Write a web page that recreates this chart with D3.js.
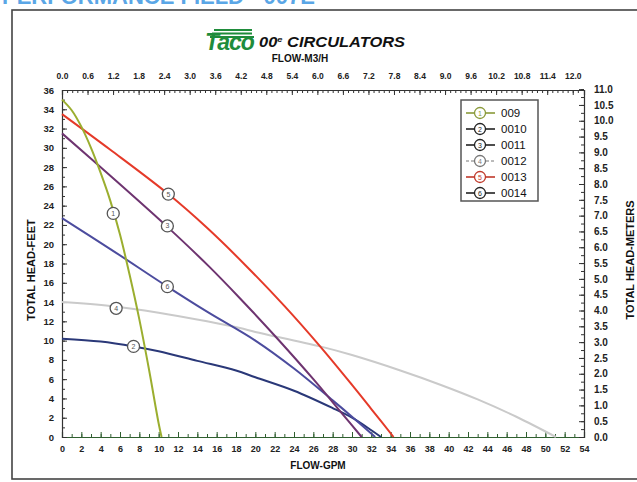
<!DOCTYPE html>
<html><head><meta charset="utf-8">
<script src="https://cdn.jsdelivr.net/npm/d3@7"></script>
<style>
html,body{margin:0;padding:0;background:#fff;}
svg{display:block;font-family:"Liberation Sans",Arial,sans-serif;}
</style></head>
<body>
<svg id="c" width="637" height="482"></svg>
<script>
// ---- data (flow in GPM, head in feet) ----
const gpmTicks = d3.range(0, 55, 2);
const m3hTicks = d3.range(0, 12.01, 0.6);
const feetTicks = d3.range(0, 37, 2);
const meterTicks = d3.range(0, 11.01, 0.5);
const seriesNames = ["009", "0010", "0011", "0012", "0013", "0014"];
const seriesColors = ["#9bae2f", "#2a3878", "#6e3470", "#cacaca", "#e53a29", "#4c4c9e"];
const legendColors = ["#8a9a3a", "#222222", "#222222", "#777777", "#c0392b", "#222222"];
const s009  = [[0,35],[1,33.9],[2,32.2],[3,30.0],[4,27.4],[5,24.5],[6,21.0],[7,16.8],[8,12.2],[9,7.0],[10,1.4],[10.3,0]];
const s0010 = [[0,10.2],[4,9.9],[7.4,9.4],[10,8.9],[14,7.9],[18,6.9],[20,6.2],[24,4.8],[28,3.0],[30,2.0],[32,0.7],[33,0]];
const s0011 = [[0,31.5],[5,27.1],[10.9,21.8],[15.2,17.7],[18.4,14.4],[22.2,10.3],[26,6.0],[29,2.4],[31,0]];
const s0012 = [[0,14],[5,13.6],[10,12.9],[15,12],[18.4,11.3],[20,10.9],[26.7,9.4],[30,8.5],[35,6.9],[39.2,5.4],[43,3.9],[47,2.1],[51.1,0]];
const s0013 = [[0,33.5],[5,29.8],[11,25.2],[15,21.7],[19,17.8],[23,13.6],[26.7,9.4],[30,5.4],[32,2.9],[34.3,0]];
const s0014 = [[0,22.7],[5,19.5],[10.9,15.6],[15,13.0],[20,10.0],[24,7.1],[28,3.8],[30,2.1],[32.4,0]];
const seriesData = [s009, s0010, s0011, s0012, s0013, s0014];
const markerPos = [[5.3,23.2],[7.4,9.4],[10.9,21.9],[5.6,13.35],[11,25.2],[10.9,15.6]];

// ---- layout ----
const svg = d3.select("#c");
const L = 62, R = 584, T = 90, B = 437;
const GPM_PER_M3H = 4.40287, FT_PER_M = 3.28084;
const x = d3.scaleLinear().domain([0, 54]).range([L, R]);
const xm = d3.scaleLinear().domain([0, 54 / GPM_PER_M3H]).range([L, R]);
const y = d3.scaleLinear().domain([0, 36]).range([B, T]);
const ym = d3.scaleLinear().domain([0, 36 / FT_PER_M]).range([B, T]);

// frame and cut heading
svg.append("text").attr("x", 2).attr("y", 4).attr("fill", "#5aa6e6")
  .attr("font-size", 22).attr("font-weight", "bold").text("PERFORMANCE FIELD - 007E");
svg.append("rect").attr("x", 12).attr("y", 10).attr("width", 640).attr("height", 469)
  .attr("fill", "#fff").attr("stroke", "#444").attr("stroke-width", 1.6);

// title / logo
const logo = svg.append("g");
[[214,29,38],[212,32.5,40],[210,36,44]].forEach(([bx,by,bw]) =>
  logo.append("rect").attr("x", bx).attr("y", by).attr("width", bw).attr("height", 2).attr("fill", "#1f8c3b"));
logo.append("text").attr("x", 205).attr("y", 50).attr("fill", "#1f8c3b")
  .attr("font-size", 23).attr("font-weight", "bold").attr("font-style", "italic")
  .attr("letter-spacing", -1).text("Taco");
const tt = svg.append("text").attr("x", 259).attr("y", 47).attr("fill", "#111")
  .attr("font-size", 14).attr("font-weight", "bold").attr("font-style", "italic")
  .attr("textLength", 146).attr("lengthAdjust", "spacingAndGlyphs");
tt.append("tspan").text("00");
tt.append("tspan").attr("font-size", 8).attr("dy", -5).text("e");
tt.append("tspan").attr("dy", 5).text(" CIRCULATORS");
svg.append("text").attr("x", 300).attr("y", 62).attr("text-anchor", "middle")
  .attr("font-size", 10).attr("font-weight", "bold").attr("fill", "#111").text("FLOW-M3/H");

// axes
function styleAxis(size) {
  return g => {
    g.selectAll(".domain").attr("stroke", "#333").attr("stroke-width", 1.2);
    g.selectAll(".tick line").attr("stroke", "#333");
    g.selectAll(".tick text").attr("font-family", "'Liberation Sans',Arial,sans-serif")
      .attr("font-size", size).attr("font-weight", "bold").attr("fill", "#222");
  };
}
// minor ticks
svg.append("g").attr("transform", `translate(0,${B})`)
  .call(d3.axisBottom(x).tickValues(d3.range(0, 55, 1)).tickSize(-3).tickFormat(""))
  .call(g => { g.select(".domain").remove(); g.selectAll("line").attr("stroke", "#2f5f2f"); });
svg.append("g").attr("transform", `translate(${L},0)`)
  .call(d3.axisLeft(y).tickValues(d3.range(0, 37, 1)).tickSize(-3).tickFormat(""))
  .call(g => { g.select(".domain").remove(); g.selectAll("line").attr("stroke", "#333"); });
svg.append("g").attr("transform", `translate(0,${T})`)
  .call(d3.axisTop(xm).tickValues(d3.range(0, 12.2, 0.12)).tickSize(-3).tickFormat(""))
  .call(g => { g.select(".domain").remove(); g.selectAll("line").attr("stroke", "#333"); });
svg.append("g").attr("transform", `translate(${R},0)`)
  .call(d3.axisRight(ym).tickValues(d3.range(0, 11.01, 0.25)).tickSize(-3).tickFormat(""))
  .call(g => { g.select(".domain").remove(); g.selectAll("line").attr("stroke", "#333"); });

// major axes
svg.append("g").attr("transform", `translate(0,${B})`)
  .call(d3.axisBottom(x).tickValues(gpmTicks).tickSize(-5).tickPadding(9).tickFormat(d3.format("d")))
  .call(styleAxis(9)).call(g => { g.select(".domain").attr("stroke", "#2f5f2f"); g.selectAll(".tick line").attr("stroke", "#2f5f2f"); });
svg.append("g").attr("transform", `translate(${L},0)`)
  .call(d3.axisLeft(y).tickValues(feetTicks).tickSize(-5).tickPadding(8).tickFormat(d3.format("d")))
  .call(styleAxis(9.5));
svg.append("g").attr("transform", `translate(0,${T})`)
  .call(d3.axisTop(xm).tickValues(m3hTicks).tickSize(-5).tickPadding(11).tickFormat(d3.format(".1f")))
  .call(styleAxis(8.5));
svg.append("g").attr("transform", `translate(${R},0)`)
  .call(d3.axisRight(ym).tickValues(meterTicks).tickSize(-5).tickPadding(10).tickFormat(d3.format(".1f")))
  .call(styleAxis(10));

// axis titles
svg.append("text").attr("transform", "translate(35,270) rotate(-90)").attr("text-anchor", "middle")
  .attr("font-size", 11).attr("font-weight", "bold").attr("fill", "#111").text("TOTAL HEAD-FEET");
svg.append("text").attr("transform", "translate(634,260) rotate(-90)").attr("text-anchor", "middle")
  .attr("font-size", 11).attr("font-weight", "bold").attr("fill", "#111").text("TOTAL HEAD-METERS");
svg.append("text").attr("x", 318).attr("y", 469).attr("text-anchor", "middle")
  .attr("font-size", 10).attr("font-weight", "bold").attr("fill", "#111").text("FLOW-GPM");

// curves
const line = d3.line().x(d => x(d[0])).y(d => y(d[1])).curve(d3.curveCatmullRom.alpha(0.5));
const drawOrder = [3, 1, 5, 2, 4, 0];
drawOrder.forEach(i => {
  svg.append("path").datum(seriesData[i]).attr("d", line).attr("fill", "none")
    .attr("stroke", seriesColors[i]).attr("stroke-width", 2);
});

// markers
function marker(g, cx, cy, n, col, r) {
  g.append("circle").attr("cx", cx).attr("cy", cy).attr("r", r)
    .attr("fill", "#fff").attr("stroke", col).attr("stroke-width", 1.3);
  g.append("text").attr("x", cx).attr("y", cy + 2.5).attr("text-anchor", "middle")
    .attr("font-size", 7).attr("fill", col).text(n);
}
markerPos.forEach((p, i) => marker(svg, x(p[0]), y(p[1]), i + 1, "#555", 6));

// legend
const lg = svg.append("g");
lg.append("rect").attr("x", 461).attr("y", 100).attr("width", 77).attr("height", 101)
  .attr("fill", "#fff").attr("stroke", "#555").attr("stroke-width", 1.5);
seriesNames.forEach((nm, i) => {
  const yy = 113 + i * 16;
  lg.append("line").attr("x1", 466).attr("x2", 495).attr("y1", yy).attr("y2", yy)
    .attr("stroke", legendColors[i]).attr("stroke-width", i === 3 ? 1 : 1.6)
    .attr("stroke-dasharray", i === 3 ? "3,2" : null);
  marker(lg, 480, yy, i + 1, legendColors[i], 5.5);
  lg.append("text").attr("x", 501).attr("y", yy + 4).attr("font-size", 11.5)
    .attr("fill", "#111").text(nm);
});
</script>
</body></html>
